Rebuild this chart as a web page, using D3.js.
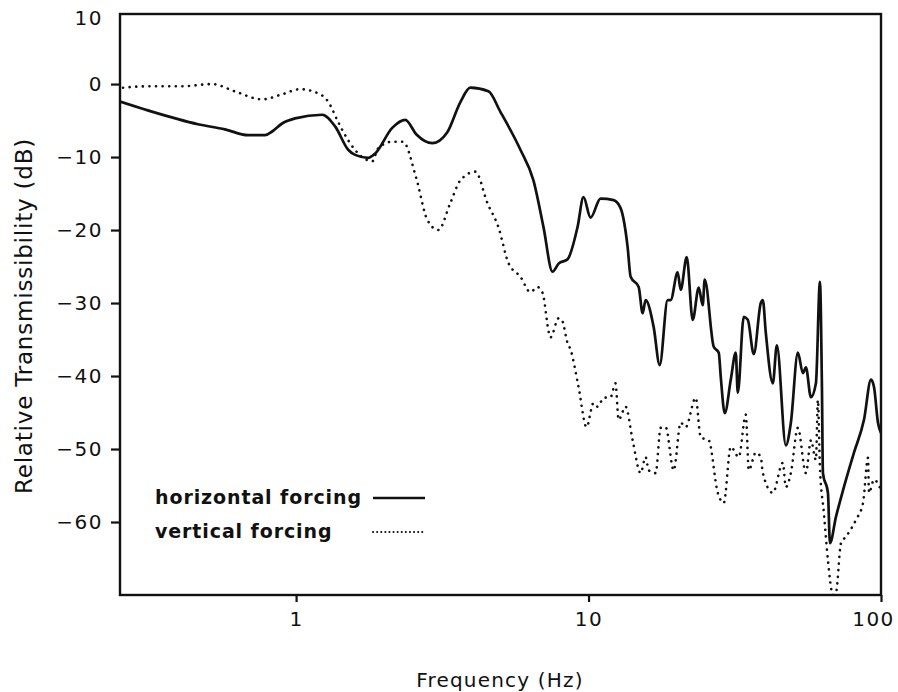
<!DOCTYPE html>
<html>
<head>
<meta charset="utf-8">
<script src="https://cdn.jsdelivr.net/npm/d3@7"></script>
<style>
  body { margin: 0; background: #fff; }
  text { font-family: "DejaVu Sans", sans-serif; fill: #111; }
</style>
</head>
<body>
<svg width="898" height="692"></svg>
<script>
// horizontal forcing (solid)
const hFreq = [0.25, 0.311, 0.462, 0.571, 0.685, 0.783, 0.828, 0.896, 0.992, 1.228,
  1.36, 1.507, 1.592, 1.764, 1.865, 2.132, 2.362, 2.58, 2.923, 3.289,
  3.643, 3.944, 4.546, 4.996, 5.849, 6.481, 7.014, 7.53, 7.9, 8.48,
  9.17, 9.61, 10.16, 10.99, 12.18, 12.87, 13.6, 13.93, 14.84, 15.31,
  15.67, 16.7, 17.51, 18.64, 19.09, 20.17, 20.66, 21.66, 22.71, 23.81,
  24.57, 24.96, 26.8, 27.88, 28.32, 29.23, 30.64, 31.87, 32.38, 33.95,
  35.04, 36.73, 38.81, 39.44, 40.38, 42.67, 44.04, 47.28, 49.18, 51.97,
  54.07, 55.37, 57.59, 59.91, 61.83, 62.81, 63.31, 65.85, 66.9, 70.14,
  74.7, 80.83, 87.46, 92.43, 94.64, 97.66, 100];
const hDb = [-2.4, -3.6, -5.5, -6.2, -7.0, -7.0, -6.5, -5.4, -4.7, -4.2,
  -5.8, -9.0, -9.7, -10.1, -9.5, -6.0, -4.9, -6.9, -8.1, -6.6,
  -2.5, -0.5, -1.0, -3.8, -9.0, -13.2, -19.6, -25.7, -24.6, -24.0,
  -19.6, -15.5, -18.3, -15.7, -15.9, -17.0, -22.3, -26.4, -27.8, -31.4,
  -29.6, -33.3, -38.5, -29.6, -29.6, -25.8, -28.2, -23.7, -32.3, -27.9,
  -30.3, -26.8, -36.0, -36.8, -40.1, -45.1, -40.5, -36.8, -42.3, -31.9,
  -32.3, -37.0, -30.0, -29.6, -34.1, -41.0, -35.8, -49.5, -46.4, -36.8,
  -39.6, -38.8, -42.9, -41.0, -27.1, -41.5, -53.3, -56.0, -62.9, -59.3,
  -55.2, -50.5, -46.0, -40.5, -41.5, -46.4, -47.8];

// vertical forcing (dotted)
const vFreq = [0.256, 0.311, 0.407, 0.516, 0.618, 0.765, 0.896, 1.032, 1.162, 1.287,
  1.393, 1.507, 1.683, 1.821, 1.909, 2.132, 2.32, 2.58, 2.81, 3.064,
  3.368, 3.643, 4.102, 4.51, 4.918, 5.321, 5.849, 6.33, 6.689, 6.959,
  7.412, 7.9, 8.1, 8.48, 8.68, 9.243, 9.844, 10.4, 10.74, 11.26,
  11.89, 12.37, 12.67, 13.39, 14.15, 15.07, 15.67, 16.05, 16.96, 17.64,
  18.35, 19.55, 20.66, 21.49, 23.25, 24.19, 25.76, 27.66, 28.99, 30.64,
  32.64, 34.49, 35.31, 37.32, 38.81, 39.44, 42.67, 46.17, 47.28, 49.18,
  51.97, 55.37, 57.59, 59.91, 60.85, 61.83, 63.81, 65.85, 68.5, 70.14,
  72.96, 75.89, 82.12, 86.78, 90.28, 90.99, 94.64, 100];
const vDb = [-0.5, -0.3, -0.3, 0.0, -1.0, -2.1, -1.4, -0.7, -1.1, -2.4,
  -5.2, -7.7, -10.0, -10.6, -8.8, -7.9, -7.9, -13.0, -18.6, -20.0,
  -16.3, -13.2, -12.0, -16.3, -19.6, -24.5, -26.4, -28.5, -27.8, -28.6,
  -34.7, -32.1, -32.3, -35.5, -36.4, -41.5, -47.0, -43.7, -44.2, -43.0,
  -42.9, -41.0, -46.0, -44.2, -48.8, -53.3, -51.1, -52.9, -53.3, -47.1,
  -47.0, -52.9, -46.4, -47.0, -43.0, -48.4, -48.8, -56.0, -57.4, -49.7,
  -51.1, -45.3, -52.9, -50.5, -51.1, -53.3, -56.0, -51.9, -55.2, -53.3,
  -47.1, -53.3, -48.8, -51.5, -43.3, -52.5, -58.8, -65.2, -70.0, -69.7,
  -62.9, -62.0, -59.7, -57.4, -51.2, -56.0, -54.2, -55.6];

const xTicks = [1, 10, 100];
const yTicks = [0, -10, -20, -30, -40, -50, -60];
const yTopLabel = 10;
const seriesNames = ["horizontal forcing", "vertical forcing"];

const svg = d3.select("svg");

const x = d3.scaleLog().domain([0.25, 100]).range([120, 881]);
const y = d3.scaleLinear().domain([-70, 9.6]).range([595, 14]);

svg.append("defs").append("clipPath").attr("id", "plot")
  .append("rect")
  .attr("x", x.range()[0]).attr("y", y.range()[1])
  .attr("width", x.range()[1] - x.range()[0])
  .attr("height", y.range()[0] - y.range()[1]);

// frame
svg.append("rect")
  .attr("x", x.range()[0]).attr("y", y.range()[1])
  .attr("width", x.range()[1] - x.range()[0])
  .attr("height", y.range()[0] - y.range()[1])
  .attr("fill", "none").attr("stroke", "#111").attr("stroke-width", 2.4);

// axes
const yAxis = svg.append("g")
  .attr("transform", `translate(${x.range()[0]},0)`)
  .call(d3.axisLeft(y).tickValues(yTicks).tickSize(9).tickPadding(8));
yAxis.select(".domain").remove();
yAxis.selectAll(".tick line").attr("stroke", "#111").attr("stroke-width", 2.2);
yAxis.selectAll("text").attr("font-size", 20).attr("letter-spacing", 1.5)
  .attr("font-family", "DejaVu Sans").attr("fill", "#111");

svg.append("text")
  .attr("x", x.range()[0] - 17)
  .attr("y", y(y.domain()[1]) + 5)
  .attr("dy", "0.32em")
  .attr("text-anchor", "end")
  .attr("font-size", 20).attr("letter-spacing", 1.5)
  .text(yTopLabel);

const xAxis = svg.append("g")
  .attr("transform", `translate(0,${y.range()[0]})`)
  .call(d3.axisBottom(x).tickValues(xTicks).tickSize(7).tickPadding(10)
    .tickFormat(d3.format("d")));
xAxis.select(".domain").remove();
xAxis.selectAll(".tick line").attr("stroke", "#111").attr("stroke-width", 2.2);
xAxis.selectAll("text").attr("font-size", 20).attr("letter-spacing", 1.5)
  .attr("font-family", "DejaVu Sans").attr("fill", "#111")
  .attr("dx", d => d === 100 ? -8 : 0);

// axis titles
svg.append("text")
  .attr("x", 500).attr("y", 687)
  .attr("text-anchor", "middle")
  .attr("font-size", 20).attr("letter-spacing", 1.2)
  .text("Frequency (Hz)");

svg.append("text")
  .attr("transform", "translate(32,316) rotate(-90)")
  .attr("text-anchor", "middle")
  .attr("font-size", 23).attr("letter-spacing", 0.8)
  .text("Relative Transmissibility (dB)");

// curves
const line = d3.line()
  .x(d => x(d[0]))
  .y(d => y(d[1]))
  .curve(d3.curveMonotoneX);

const plot = svg.append("g").attr("clip-path", "url(#plot)");

plot.append("path")
  .datum(vFreq.map((f, i) => [f, vDb[i]]))
  .attr("d", line)
  .attr("fill", "none")
  .attr("stroke", "#111")
  .attr("stroke-width", 2.6)
  .attr("stroke-linecap", "round")
  .attr("stroke-dasharray", "0.1,6.5");

plot.append("path")
  .datum(hFreq.map((f, i) => [f, hDb[i]]))
  .attr("d", line)
  .attr("fill", "none")
  .attr("stroke", "#111")
  .attr("stroke-width", 2.7)
  .attr("stroke-linejoin", "round");

// legend
const legend = svg.append("g");
seriesNames.forEach((name, i) => {
  const ly = 498 + i * 34;
  legend.append("text")
    .attr("x", 155).attr("y", ly + 6)
    .attr("font-size", 19).attr("font-weight", "bold")
    .attr("letter-spacing", 0.9)
    .text(name);
  legend.append("line")
    .attr("x1", 373).attr("x2", 425)
    .attr("y1", ly).attr("y2", ly)
    .attr("stroke", "#111")
    .attr("stroke-width", i === 0 ? 2.4 : 2)
    .attr("stroke-linecap", i === 0 ? "butt" : "round")
    .attr("stroke-dasharray", i === 0 ? null : "0.1,4");
});
</script>
</body>
</html>
